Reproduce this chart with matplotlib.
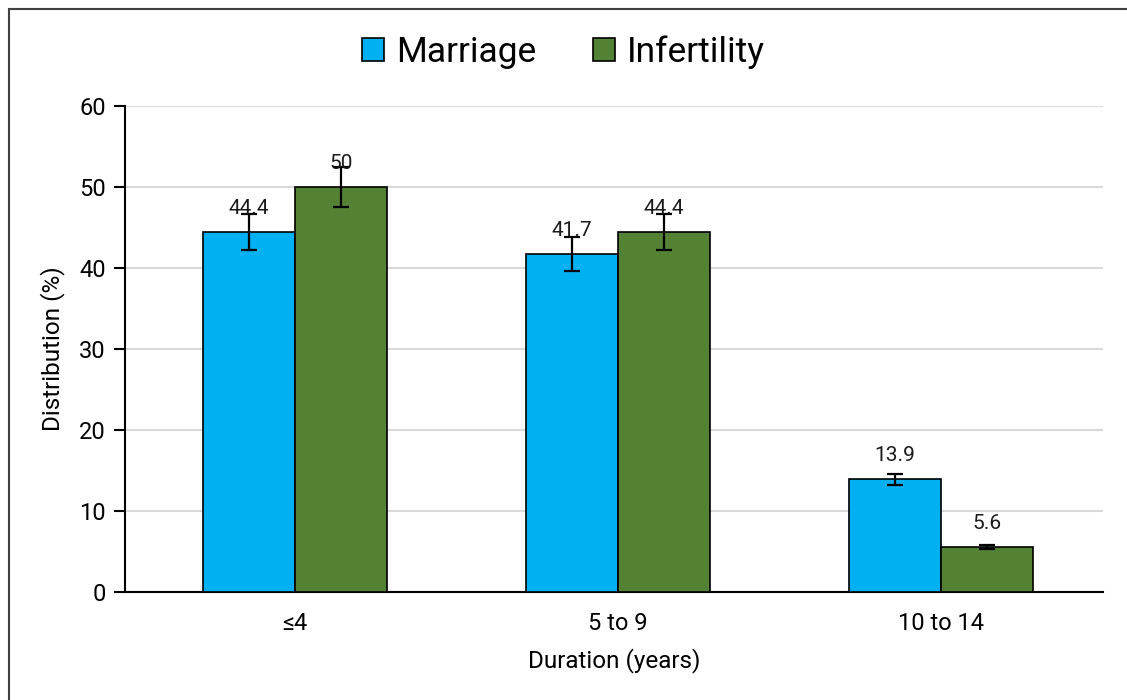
import matplotlib.pyplot as plt
from matplotlib.patches import Rectangle
import numpy as np

plt.rcParams['font.family'] = ['Roboto', 'DejaVu Sans']

# data
categories = ['≤4', '5 to 9', '10 to 14']
marriage = [44.4, 41.7, 13.9]
infertility = [50, 44.4, 5.6]
marriage_err = [2.2, 2.1, 0.7]
infertility_err = [2.5, 2.2, 0.28]

fig = plt.figure(figsize=(11.27, 7.0), dpi=100)
ax = fig.add_axes([0.111, 0.154, 0.868, 0.695])

x = np.arange(len(categories))
w = 0.285

b1 = ax.bar(x - w / 2, marriage, w, color='#00B0F0', edgecolor='black',
            linewidth=1.2, label='Marriage', zorder=3)
b2 = ax.bar(x + w / 2, infertility, w, color='#548235', edgecolor='black',
            linewidth=1.2, label='Infertility', zorder=3)
ax.errorbar(x - w / 2, marriage, yerr=marriage_err, fmt='none', ecolor='black',
            elinewidth=1.6, capsize=5.5, capthick=1.6, zorder=4)
ax.errorbar(x + w / 2, infertility, yerr=infertility_err, fmt='none', ecolor='black',
            elinewidth=1.6, capsize=5.5, capthick=1.6, zorder=4)

# value labels above the bars
for bars, vals in ((b1, marriage), (b2, infertility)):
    for rect, v in zip(bars, vals):
        ax.annotate(f'{v:g}', (rect.get_x() + rect.get_width() / 2, v),
                    xytext=(0, 17), textcoords='offset points',
                    ha='center', va='center', fontsize=15, color='#1a1a1a', zorder=5)

ax.set_xlim(-0.526, 2.502)
ax.set_ylim(0, 60)
ax.set_yticks(range(0, 61, 10))
ax.set_xticks(x)
ax.set_xticklabels(categories)
ax.tick_params(axis='y', labelsize=17, length=8, width=1.5, direction='out', pad=6)
ax.tick_params(axis='x', labelsize=17, length=0, pad=14)
ax.yaxis.grid(True, color='#D9D9D9', linewidth=1.5, zorder=0)
ax.set_axisbelow(True)

for s in ['top', 'right']:
    ax.spines[s].set_visible(False)
ax.spines['left'].set_linewidth(1.5)
ax.spines['bottom'].set_linewidth(1.5)

ax.set_ylabel('Distribution (%)', fontsize=17.5, labelpad=10)
ax.set_xlabel('Duration (years)', fontsize=17.5, labelpad=10)

fig.legend(handles=[b1, b2], loc='center', bbox_to_anchor=(0.5, 0.926), ncol=2,
           frameon=False, fontsize=25.5, handlelength=0.62, handleheight=0.62,
           handletextpad=0.35, columnspacing=1.6)

# outer frame (only left and top edges visible in the crop)
fig.patches.append(Rectangle((0.008, -0.05), 1.2, 1.037, transform=fig.transFigure,
                             fill=False, edgecolor='#404040', linewidth=1.5))

fig.savefig('out.png', dpi=100)
